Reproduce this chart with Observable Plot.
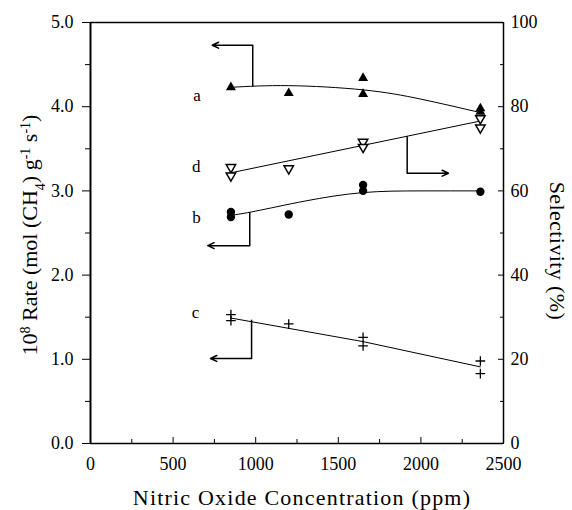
<!DOCTYPE html>
<html><head><meta charset="utf-8">
<script src="https://cdn.jsdelivr.net/npm/d3@7"></script>
<script src="https://cdn.jsdelivr.net/npm/@observablehq/plot@0.6"></script>
<style>body{margin:0;background:#fff} svg{display:block} svg text{font-family:"Liberation Serif","Times New Roman",serif}</style>
</head><body><div id="chart"></div>
<script>
// --- data ---
const seriesA_x = [850, 1200, 1650, 1650, 2360, 2360];
const seriesA_rate = [4.23, 4.16, 4.34, 4.15, 3.98, 3.94];
const seriesB_x = [850, 850, 1200, 1650, 1650, 2360];
const seriesB_rate = [2.75, 2.69, 2.72, 3.07, 3.00, 2.99];
const seriesC_x = [850, 850, 1200, 1650, 1650, 2360, 2360];
const seriesC_rate = [1.53, 1.46, 1.42, 1.26, 1.16, 0.98, 0.83];
const seriesD_x = [850, 850, 1200, 1650, 1650, 2360, 2360];
const seriesD_sel = [65.6, 63.6, 65.3, 71.6, 70.4, 77.2, 75.0];

const fitA_x = [850, 1200, 1650, 2000, 2360];
const fitA_rate = [4.23, 4.25, 4.20, 4.09, 3.93];
const fitB_x = [850, 1000, 1300, 1650, 2000, 2360];
const fitB_rate = [2.71, 2.76, 2.88, 2.98, 3.00, 3.00];
const fitC_x = [850, 1650, 2360];
const fitC_rate = [1.49, 1.21, 0.91];
const fitD_x = [850, 2360];
const fitD_sel = [64.3, 76.6];

const curveLabels = ["a", "d", "b", "c"];
const labelX = [645, 640, 642, 636];
const labelRate = [4.13, 3.29, 2.68, 1.55];

const arrowStemX = [982, 1917, 964, 975];
const arrowStemFrom = [4.24, 3.65, 2.75, 1.47];
const arrowStemTo = [4.73, 3.21, 2.35, 1.01];
const arrowTipX = [737, 2167, 710, 726];

const xTicks = [0, 500, 1000, 1500, 2000, 2500];
const xMinorTicks = [250, 750, 1250, 1750, 2250];
const rateTicks = [0, 1, 2, 3, 4, 5];
const rateMinorTicks = [0.5, 1.5, 2.5, 3.5, 4.5];
const selTicks = [0, 20, 40, 60, 80, 100];
const selMinorTicks = [10, 30, 50, 70, 90];

const xTitle = "Nitric Oxide Concentration (ppm)";
const yTitle = "10^8 Rate (mol (CH_4) g^-1 s^-1)";
const y2Title = "Selectivity (%)";

// --- tables ---
const SEL_PER_RATE = 20; // 100 % on right axis aligns with 5.0 on left axis
const zip = (xs, ys) => xs.map((x, i) => ({x, y: ys[i]}));
const ptsA = zip(seriesA_x, seriesA_rate);
const ptsB = zip(seriesB_x, seriesB_rate);
const ptsC = zip(seriesC_x, seriesC_rate);
const ptsD = zip(seriesD_x, seriesD_sel.map(s => s / SEL_PER_RATE));
const lineA = zip(fitA_x, fitA_rate);
const lineB = zip(fitB_x, fitB_rate);
const lineC = zip(fitC_x, fitC_rate);
const lineD = zip(fitD_x, fitD_sel.map(s => s / SEL_PER_RATE));
const labels = curveLabels.map((t, i) => ({t, x: labelX[i], y: labelRate[i]}));
const arrows = arrowStemX.map((x, i) => ({x, y1: arrowStemFrom[i], y2: arrowStemTo[i], tip: arrowTipX[i]}));

const triDown = {
  draw(ctx, size) {
    const s3 = Math.sqrt(3);
    const y = -Math.sqrt(size / (s3 * 3));
    ctx.moveTo(0, -y * 2);
    ctx.lineTo(-s3 * y, y);
    ctx.lineTo(s3 * y, y);
    ctx.closePath();
  }
};

const serif = "Liberation Serif, Times New Roman, serif";

const chart = Plot.plot({
  width: 572, height: 510,
  marginLeft: 90, marginRight: 69, marginTop: 22, marginBottom: 67,
  style: {fontFamily: serif, fontSize: "18px", background: "#fff", color: "#000"},
  x: {domain: [0, 2500]},
  y: {domain: [0, 5]},
  marks: [
    // axes
    Plot.axisX(xTicks, {tickSize: -6, tickPadding: 20, tickFormat: d => String(d), label: null, fontSize: 18, fontFamily: serif}),
    Plot.axisX(xMinorTicks, {tickSize: -4, tickFormat: () => "", label: null}),
    Plot.axisY(rateTicks, {anchor: "left", tickSize: 8, tickPadding: 9, tickFormat: d3.format(".1f"), label: null, fontSize: 18, fontFamily: serif}),
    Plot.axisY(rateMinorTicks, {anchor: "left", tickSize: 5, tickFormat: () => "", label: null}),
    Plot.axisY(selTicks.map(s => s / SEL_PER_RATE), {anchor: "right", tickSize: -6, tickPadding: 13, tickFormat: d => String(Math.round(d * SEL_PER_RATE)), label: null, fontSize: 18, fontFamily: serif}),
    Plot.axisY(selMinorTicks.map(s => s / SEL_PER_RATE), {anchor: "right", tickSize: -4, tickFormat: () => "", label: null}),
    // frame
    Plot.ruleY([0, 5], {strokeWidth: 1.5}),
    Plot.ruleX([2500], {strokeWidth: 1.5}),
    Plot.ruleX([0], {strokeWidth: 2}),
    // fitted curves
    Plot.line(lineA, {x: "x", y: "y", curve: "natural", strokeWidth: 1}),
    Plot.line(lineB, {x: "x", y: "y", curve: "natural", strokeWidth: 1}),
    Plot.line(lineC, {x: "x", y: "y", strokeWidth: 1}),
    Plot.line(lineD, {x: "x", y: "y", strokeWidth: 1}),
    // axis-pointer arrows
    Plot.link(arrows, {x1: "x", x2: "x", y1: "y1", y2: "y2", strokeWidth: 1.5}),
    Plot.arrow(arrows, {x1: "x", x2: "tip", y1: "y2", y2: "y2", strokeWidth: 1.5, headLength: 7, headAngle: 50}),
    // data points
    Plot.dot(ptsA, {x: "x", y: "y", symbol: "triangle", fill: "#000", r: 3.7}),
    Plot.dot(ptsD, {x: "x", y: "y", symbol: triDown, fill: "#fff", stroke: "#000", strokeWidth: 1.5, r: 3.5}),
    Plot.dot(ptsB, {x: "x", y: "y", symbol: "circle", fill: "#000", r: 4.2}),
    Plot.dot(ptsC, {x: "x", y: "y", symbol: "plus", stroke: "#000", strokeWidth: 1.3, r: 3.2}),
    // curve letters
    Plot.text(labels, {x: "x", y: "y", text: "t", fontSize: 17, fontFamily: serif}),
    // axis titles
    Plot.text([xTitle], {frameAnchor: "bottom", textAnchor: "middle", lineAnchor: "middle", dx: 5, dy: 54, fontSize: 22, fontFamily: serif, text: d => d}),
    Plot.text([yTitle], {frameAnchor: "left", textAnchor: "middle", lineAnchor: "middle", rotate: -90, dx: -61, dy: 2, fontSize: 22, fontFamily: serif, text: d => d}),
    Plot.text([y2Title], {frameAnchor: "right", textAnchor: "middle", lineAnchor: "middle", rotate: 90, dx: 54, dy: 18, fontSize: 22, fontFamily: serif, text: d => d})
  ]
});

// render super/subscripts of the left title with tspans; widen the stretched titles
d3.select(chart).selectAll("text").each(function() {
  const content = this.textContent;
  if (content === xTitle) d3.select(this).attr("letter-spacing", 1.2);
  if (content === y2Title) d3.select(this).attr("letter-spacing", 0.4);
  if (content !== yTitle) return;
  const t = d3.select(this);
  t.text(null);
  const parts = [
    ["10", 0], ["8", -1], [" Rate (mol (CH", 0], ["4", 1], [") g", 0], ["-1", -1], [" s", 0], ["-1", -1], [")", 0]
  ];
  for (const [s, k] of parts) {
    const sp = t.append("tspan").text(s);
    if (k !== 0) sp.attr("font-size", 14).attr("baseline-shift", k < 0 ? "super" : "sub");
  }
});

document.getElementById("chart").appendChild(chart);
</script>
</body></html>
